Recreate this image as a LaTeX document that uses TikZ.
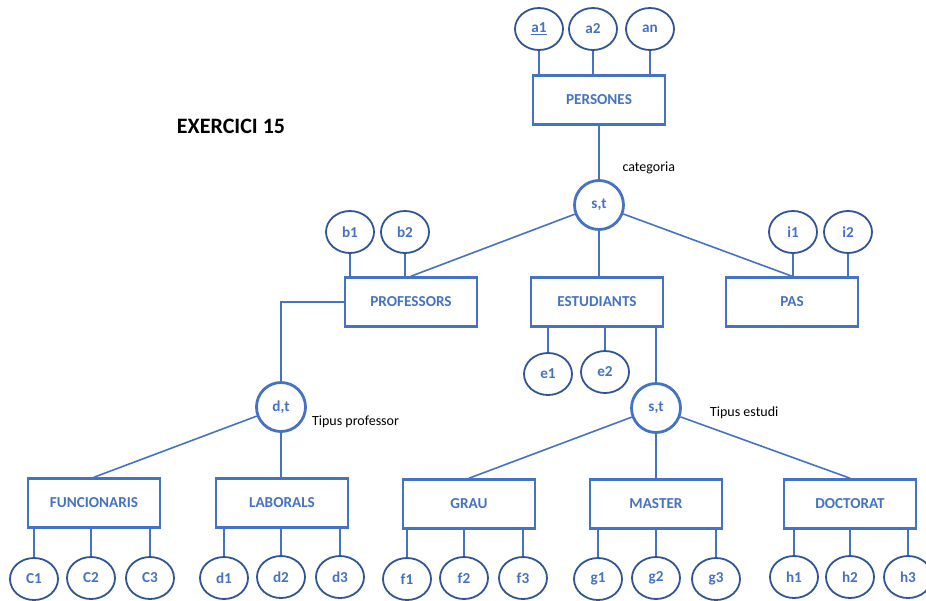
\documentclass[tikz,border=0pt]{standalone}
\usepackage{fontspec}
\setmainfont{Carlito}
\usetikzlibrary{positioning,shapes.geometric}

\definecolor{entblue}{HTML}{4472C4}
\definecolor{attrblue}{HTML}{2F5597}

\tikzset{
	entity/.style={draw=entblue, line width=2.6pt, minimum width=132pt, minimum height=49pt, inner sep=0pt, text=entblue, font=\fontsize{15.2}{17}\selectfont\bfseries},
	attr/.style={draw=attrblue, ellipse, line width=1.8pt, minimum width=48pt, minimum height=42pt, inner sep=0pt, text=entblue, font=\fontsize{15.2}{17}\selectfont\bfseries},
	spec/.style={draw=entblue, circle, line width=2.8pt, minimum size=49pt, inner sep=0pt, text=entblue, font=\fontsize{15.2}{17}\selectfont\bfseries},
	link/.style={draw=entblue, line width=1.6pt},
	note/.style={font=\fontsize{14}{16}\selectfont, inner sep=0pt, anchor=west}
}

\begin{document}
\begin{tikzpicture}[x=1pt,y=-1pt]
	\useasboundingbox (0,0) rectangle (926,600);

	\node[font=\fontsize{22}{24}\selectfont\bfseries] (title) at (231,126) {EXERCICI 15};

	\draw
	node[entity] (persones) at (599,100) {PERSONES}
	node[attr] (a1) at (539,29) {\underline{a1}}
	node[attr] (a2) at (593,29) {a2}
	node[attr] (an) at (650,29) {an}
	node[spec] (st1) at (599,205) {s,t}
	node[note, above right=13pt and 5pt of st1.north east] (categ) {categoria};

	\draw[link] (a1) -- (a1 |- persones.north);
	\draw[link] (a2) -- (a2 |- persones.north);
	\draw[link] (an) -- (an |- persones.north);
	\draw[link] (persones) -- (st1);

	\draw
	node[entity] (profs) at (411,302) {PROFESSORS}
	node[entity] (estud) at (597,302) {ESTUDIANTS}
	node[entity] (pas) at (792,302) {PAS}
	node[attr] (b1) at (350,232) {b1}
	node[attr] (b2) at (405,232) {b2}
	node[attr] (i1) at (793,232) {i1}
	node[attr] (i2) at (848,232) {i2}
	node[attr] (e1) at (548,374) {e1}
	node[attr] (e2) at (605,372) {e2};

	\draw[link] (st1) -- (profs.north);
	\draw[link] (st1) -- (st1 |- estud.north);
	\draw[link] (st1) -- (pas.north);
	\draw[link] (b1) -- (b1 |- profs.north);
	\draw[link] (b2) -- (b2 |- profs.north);
	\draw[link] (i1) -- (i1 |- pas.north);
	\draw[link] (i2) -- (i2 |- pas.north);
	\draw[link] (e1) -- (e1 |- estud.south);
	\draw[link] (e2) -- (e2 |- estud.south);

	% professors
	\draw
	node[spec] (dt) at (281,407) {d,t}
	node[note, right=5pt of dt, yshift=-15pt] (tprof) {Tipus professor}
	node[entity] (funcion) at (94,503) {FUNCIONARIS}
	node[entity] (labor) at (282,503) {LABORALS}
	node[attr] (c1) at (34,579) {C1}
	node[attr] (c2) at (91,578) {C2}
	node[attr] (c3) at (150,578) {C3}
	node[attr] (d1) at (224,578) {d1}
	node[attr] (d2) at (281,577) {d2}
	node[attr] (d3) at (340,577) {d3};

	\draw[link] (profs.west) -| (dt.north);
	\draw[link] (dt) -- (funcion.north);
	\draw[link] (dt) -- (dt |- labor.north);
	\draw[link] (c1) -- (c1 |- funcion.south);
	\draw[link] (c2) -- (c2 |- funcion.south);
	\draw[link] (c3) -- (c3 |- funcion.south);
	\draw[link] (d1) -- (d1 |- labor.south);
	\draw[link] (d2) -- (d2 |- labor.south);
	\draw[link] (d3) -- (d3 |- labor.south);

	% estudiants
	\draw
	node[spec] (st2) at (656,408) {s,t}
	node[note, right=28pt of st2, yshift=-5pt] (testudi) {Tipus estudi}
	node[entity] (grau) at (469,504) {GRAU}
	node[entity] (master) at (656,504) {MASTER}
	node[entity] (doct) at (850,504) {DOCTORAT}
	node[attr] (f1) at (407,579) {f1}
	node[attr] (f2) at (464,578) {f2}
	node[attr] (f3) at (523,578) {f3}
	node[attr] (g1) at (598,579) {g1}
	node[attr] (g2) at (656,578) {g2}
	node[attr] (g3) at (716,579) {g3}
	node[attr] (h1) at (794,577) {h1}
	node[attr] (h2) at (850,577) {h2}
	node[attr] (h3) at (908,577) {h3};

	\draw[link] (st2.north) -- (st2.north |- estud.south);
	\draw[link] (st2) -- (grau.north);
	\draw[link] (st2) -- (master.north);
	\draw[link] (st2) -- (doct.north);
	\draw[link] (f1) -- (f1 |- grau.south);
	\draw[link] (f2) -- (f2 |- grau.south);
	\draw[link] (f3) -- (f3 |- grau.south);
	\draw[link] (g1) -- (g1 |- master.south);
	\draw[link] (g2) -- (g2 |- master.south);
	\draw[link] (g3) -- (g3 |- master.south);
	\draw[link] (h1) -- (h1 |- doct.south);
	\draw[link] (h2) -- (h2 |- doct.south);
	\draw[link] (h3) -- (h3 |- doct.south);
\end{tikzpicture}
\end{document}
